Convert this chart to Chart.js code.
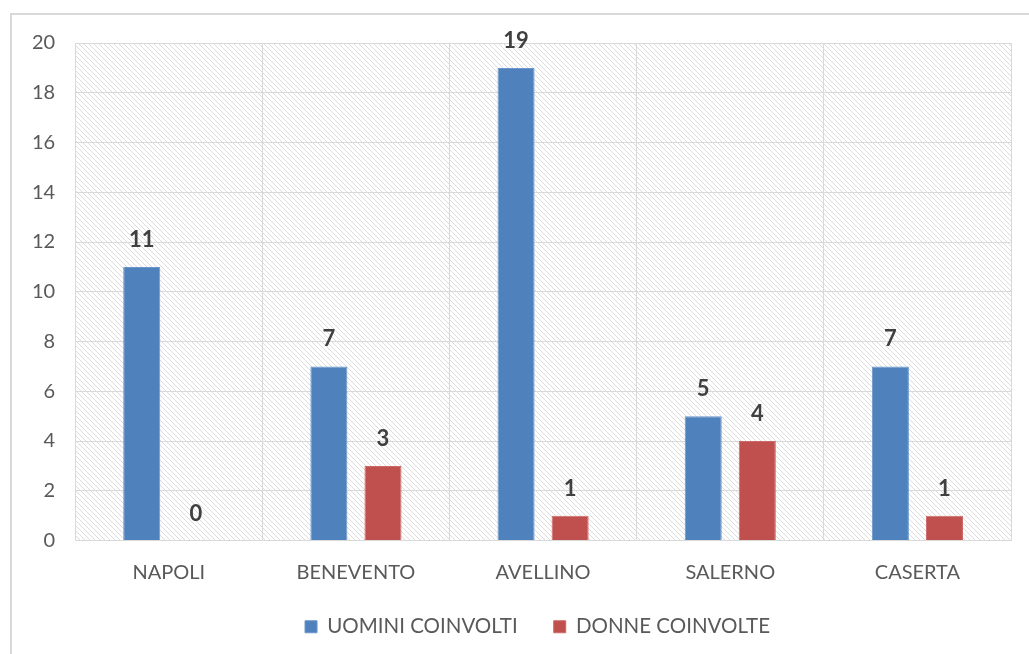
<!DOCTYPE html>
<html>
<head>
<meta charset="utf-8">
<script src="https://cdn.jsdelivr.net/npm/chart.js@4/dist/chart.umd.min.js"></script>
<style>
  body { margin: 0; background: #fff; }
  #wrap { position: relative; width: 1029px; height: 654px; overflow: hidden; }
  #frame { position: absolute; left: 10px; top: 13px; width: 1042px; height: 660px; border: 2px solid #d9d9d9; box-sizing: border-box; }
  #chart { position: absolute; left: 0; top: 0; }
</style>
</head>
<body>
<div id="wrap">
  <div id="frame"></div>
  <canvas id="chart" width="1029" height="654"></canvas>
</div>
<script>
// Data
const provinces = ['NAPOLI', 'BENEVENTO', 'AVELLINO', 'SALERNO', 'CASERTA'];
const uomini = [11, 7, 19, 5, 7];
const donne = [0, 3, 1, 4, 1];
const yTicks = [0, 2, 4, 6, 8, 10, 12, 14, 16, 18, 20];

const blue = '#4f81bd';
const red = '#c0504d';
const fontFamily = 'Lato, "Open Sans", sans-serif';

// hatched background for the plot area
function makeHatch(ctx) {
    const tile = document.createElement('canvas');
    tile.width = 5;
    tile.height = 5;
    const t = tile.getContext('2d');
    t.strokeStyle = '#dcdcdc';
    t.lineWidth = 1;
    t.beginPath();
    t.moveTo(-1, -1);
    t.lineTo(6, 6);
    t.moveTo(-1, 4);
    t.lineTo(1, 6);
    t.moveTo(4, -1);
    t.lineTo(6, 1);
    t.stroke();
    return ctx.createPattern(tile, 'repeat');
}

const hatchPlugin = {
    id: 'hatch',
    beforeDraw(chart) {
        const { ctx, chartArea } = chart;
        ctx.save();
        ctx.fillStyle = makeHatch(ctx);
        ctx.fillRect(chartArea.left, chartArea.top, chartArea.right - chartArea.left, chartArea.bottom - chartArea.top);
        ctx.restore();
    }
};

// legend: take less vertical room, and centre it on the (wider) outer frame
const legendTweak = {
    id: 'legendTweak',
    beforeLayout(chart) {
        const legend = chart.legend;
        if (legend && !legend._tweaked) {
            const fit = legend.fit;
            legend.fit = function () {
                fit.call(this);
                this.height -= 24;
            };
            legend._tweaked = true;
        }
    },
    afterLayout(chart) {
        chart.legend.left += 26;
        chart.legend.right += 26;
        chart.legend.top -= 24;
    }
};

// value labels above bars
const labelPlugin = {
    id: 'valueLabels',
    afterDatasetsDraw(chart) {
        const { ctx } = chart;
        ctx.save();
        ctx.font = 'bold 22px ' + fontFamily;
        ctx.fillStyle = '#404040';
        ctx.textAlign = 'center';
        ctx.textBaseline = 'bottom';
        chart.data.datasets.forEach(function (ds, i) {
            chart.getDatasetMeta(i).data.forEach(function (bar, j) {
                ctx.fillText(ds.data[j], bar.x, bar.y - 16);
            });
        });
        ctx.restore();
    }
};

new Chart(document.getElementById('chart'), {
    type: 'bar',
    data: {
        labels: provinces,
        datasets: [{
            label: 'UOMINI COINVOLTI',
            data: uomini,
            backgroundColor: blue,
            borderColor: '#6a96cc',
            borderWidth: 1,
        }, {
            label: 'DONNE COINVOLTE',
            data: donne,
            backgroundColor: red,
            borderColor: '#cc6a67',
            borderWidth: 1,
        }]
    },
    options: {
        responsive: false,
        animation: false,
        categoryPercentage: 0.578,
        barPercentage: 0.685,
        layout: {
            padding: { left: 12, right: 18, top: 43, bottom: 7 }
        },
        plugins: {
            legend: {
                position: 'bottom',
                labels: {
                    boxWidth: 12,
                    boxHeight: 12,
                    padding: 36,
                    color: '#595959',
                    font: { family: fontFamily, size: 20.5 }
                }
            },
            tooltip: { enabled: false }
        },
        scales: {
            x: {
                grid: { color: '#d9d9d9', lineWidth: 1, drawTicks: false },
                border: { color: '#d9d9d9' },
                ticks: {
                    color: '#595959',
                    padding: 20,
                    font: { family: fontFamily, size: 20 }
                }
            },
            y: {
                min: 0,
                max: 20,
                afterBuildTicks(axis) {
                    axis.ticks = yTicks.map(function (v) { return { value: v }; });
                },
                grid: { color: '#d9d9d9', lineWidth: 1, drawTicks: false },
                border: { display: false },
                ticks: {
                    color: '#595959',
                    padding: 20,
                    font: { family: fontFamily, size: 20 }
                }
            }
        }
    },
    plugins: [hatchPlugin, legendTweak, labelPlugin]
});
</script>
</body>
</html>
